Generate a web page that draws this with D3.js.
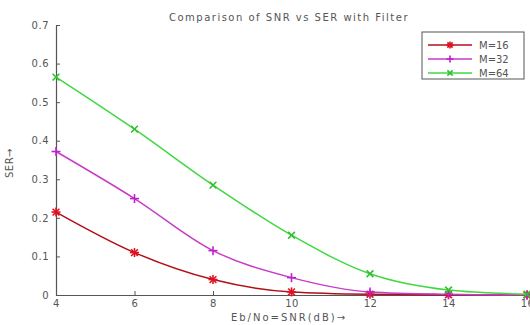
<!DOCTYPE html>
<html>
<head>
<meta charset="utf-8">
<script src="https://cdn.jsdelivr.net/npm/d3@7"></script>
<style>
  html, body { margin: 0; padding: 0; background: #fff; }
  svg { display: block; font-family: "DejaVu Sans", sans-serif; }
</style>
</head>
<body>
<svg id="chart" width="530" height="325"></svg>
<script>
// SNR points (dB) and symbol error rates for each modulation order
const snr = [4, 6, 8, 10, 12, 14, 16];
const serM16 = [0.215, 0.110, 0.040, 0.008, 0.002, 0.0005, 0.0];
const serM32 = [0.372, 0.250, 0.115, 0.045, 0.008, 0.002, 0.0];
const serM64 = [0.565, 0.430, 0.285, 0.155, 0.055, 0.013, 0.002];
const seriesNames = ["M=16", "M=32", "M=64"];
const xTicks = [4, 6, 8, 10, 12, 14, 16];
const yTicks = [0, 0.1, 0.2, 0.3, 0.4, 0.5, 0.6, 0.7];

const series = [
  { name: seriesNames[0], values: serM16, line: "#b01018", mark: "#e01020", marker: "star" },
  { name: seriesNames[1], values: serM32, line: "#c83cc8", mark: "#c020d0", marker: "plus" },
  { name: seriesNames[2], values: serM64, line: "#40d840", mark: "#30c030", marker: "cross" }
];

const svg = d3.select("#chart");
const x = d3.scaleLinear().domain([4, 16]).range([56, 527]);
const y = d3.scaleLinear().domain([0, 0.7]).range([295, 25]);

const textColor = "#555";
const fontSize = "10px";

// axes (left and bottom only, ticks pointing inward)
const axisColor = "#555";
const gx = svg.append("g").attr("transform", `translate(0,${y(0)})`)
  .call(d3.axisBottom(x).tickValues(xTicks).tickFormat(d3.format("d")).tickSizeInner(-4).tickSizeOuter(0).tickPadding(5));
const gy = svg.append("g").attr("transform", `translate(${x(4)},0)`)
  .call(d3.axisLeft(y).tickValues(yTicks).tickFormat(d => d === 0 ? "0" : d3.format(".1f")(d)).tickSizeInner(-4).tickSizeOuter(0).tickPadding(7));
[gx, gy].forEach(g => {
  g.select(".domain").attr("stroke", axisColor).attr("stroke-width", 1.2);
  g.selectAll(".tick line").attr("stroke", axisColor);
  g.selectAll(".tick text").attr("fill", textColor)
    .style("font-family", "DejaVu Sans, sans-serif").style("font-size", fontSize).style("letter-spacing", "0.5px");
});

// marker drawing
function drawMarker(g, type, cx, cy, color, r) {
  const segs = [];
  if (type === "plus" || type === "star") { segs.push([0, -r, 0, r], [-r, 0, r, 0]); }
  if (type === "cross" || type === "star") { const k = r * 0.75; segs.push([-k, -k, k, k], [-k, k, k, -k]); }
  segs.forEach(s => g.append("line")
    .attr("x1", cx + s[0]).attr("y1", cy + s[1]).attr("x2", cx + s[2]).attr("y2", cy + s[3])
    .attr("stroke", color).attr("stroke-width", 1.6));
}

const line = d3.line().x(d => x(d[0])).y(d => y(d[1])).curve(d3.curveMonotoneX);

series.forEach(s => {
  const pts = snr.map((v, i) => [v, s.values[i]]);
  svg.append("path").datum(pts).attr("d", line)
    .attr("fill", "none").attr("stroke", s.line).attr("stroke-width", 1.5);
  const mg = svg.append("g");
  pts.forEach(p => drawMarker(mg, s.marker, x(p[0]), y(p[1]), s.mark, 4.5));
});

// title and axis labels
svg.append("text").attr("x", 289).attr("y", 21).attr("text-anchor", "middle")
  .attr("fill", textColor).style("font-size", fontSize).style("letter-spacing", "1.5px")
  .text("Comparison of SNR vs SER with Filter");
svg.append("text").attr("x", 289).attr("y", 321).attr("text-anchor", "middle")
  .attr("fill", textColor).style("font-size", fontSize).style("letter-spacing", "2px")
  .text("Eb/No=SNR(dB)\u2192");
svg.append("text").attr("transform", "translate(13,163) rotate(-90)").attr("text-anchor", "middle")
  .attr("fill", textColor).style("font-size", fontSize).style("letter-spacing", "0.5px")
  .text("SER\u2192");

// legend
const lg = svg.append("g");
lg.append("rect").attr("x", 422).attr("y", 32).attr("width", 102).attr("height", 47)
  .attr("fill", "#fff").attr("stroke", "#555").attr("stroke-width", 1);
series.forEach((s, i) => {
  const ly = 45 + i * 14;
  lg.append("line").attr("x1", 428).attr("x2", 472).attr("y1", ly).attr("y2", ly)
    .attr("stroke", s.line).attr("stroke-width", 1.5);
  drawMarker(lg, s.marker, 450, ly, s.mark, 3.5);
  lg.append("text").attr("x", 479).attr("y", ly + 3.5).attr("fill", textColor)
    .style("font-size", fontSize).text(s.name);
});
</script>
</body>
</html>
